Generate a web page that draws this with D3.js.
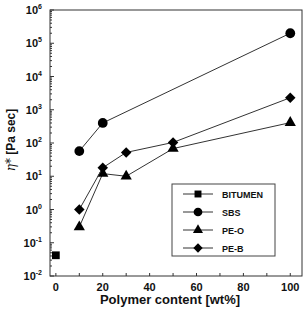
<!DOCTYPE html>
<html>
<head>
<meta charset="utf-8">
<script src="https://cdn.jsdelivr.net/npm/d3@7"></script>
<style>
body{margin:0;background:#fff;}
text{font-family:"Liberation Sans",Arial,sans-serif;font-weight:bold;fill:#111;}
</style>
</head>
<body>
<div id="chart-area"></div>
<script>
var margin = {top: 10, right: 4, bottom: 33, left: 50};
var width = 306 - margin.left - margin.right;
var height = 309 - margin.top - margin.bottom;

// data
var seriesNames = ["BITUMEN", "SBS", "PE-O", "PE-B"];
var bitumenX = [0];
var bitumenY = [0.042];
var sbsX = [10, 20, 100];
var sbsY = [57, 400, 200000];
var peoX = [10, 20, 30, 50, 100];
var peoY = [0.3, 12, 10, 68, 410];
var pebX = [10, 20, 30, 50, 100];
var pebY = [1.0, 18, 52, 104, 2300];
var xTicks = [0, 20, 40, 60, 80, 100];
var yExps = [-2, -1, 0, 1, 2, 3, 4, 5, 6];

var series = [
	{name: seriesNames[0], x: bitumenX, y: bitumenY, sym: d3.symbolSquare, size: 60, rot: 0},
	{name: seriesNames[1], x: sbsX, y: sbsY, sym: d3.symbolCircle, size: 75, rot: 0},
	{name: seriesNames[2], x: peoX, y: peoY, sym: d3.symbolTriangle, size: 55, rot: 0},
	{name: seriesNames[3], x: pebX, y: pebY, sym: d3.symbolSquare, size: 55, rot: 45}
];

var svg = d3.select("#chart-area").append("svg")
	.attr("width", 306)
	.attr("height", 309);

var group = svg.append("g")
	.attr("transform", "translate(" + margin.left + "," + margin.top + ")");

var x = d3.scaleLinear().domain([-2.5, 105]).range([0, width]);
var y = d3.scaleLog().domain([1e-2, 1e6]).range([height, 0]);

// frame
group.append("rect")
	.attr("width", width).attr("height", height)
	.attr("fill", "none").attr("stroke", "#333").attr("stroke-width", 1);

// y ticks (inside), major + minor
var minor = [];
yExps.slice(0, -1).forEach((e)=>{
	for (var k = 2; k <= 9; k++) minor.push(k * Math.pow(10, e));
});
group.selectAll(".ymin").data(minor).enter().append("line")
	.attr("x1", 0).attr("x2", 2)
	.attr("y1", (d)=>y(d)).attr("y2", (d)=>y(d))
	.attr("stroke", "#333");
group.selectAll(".ymaj").data(yExps).enter().append("line")
	.attr("x1", 0).attr("x2", 4)
	.attr("y1", (d)=>y(Math.pow(10, d))).attr("y2", (d)=>y(Math.pow(10, d)))
	.attr("stroke", "#333");
var yl = group.selectAll(".ylab").data(yExps).enter().append("text")
	.attr("x", -8)
	.attr("y", (d)=>y(Math.pow(10, d)) + 4)
	.attr("text-anchor", "end")
	.attr("font-size", "11px");
yl.append("tspan").text("10");
yl.append("tspan").attr("dy", -5).attr("font-size", "7px").text((d)=>d);

// x ticks (inside)
group.selectAll(".xt").data(d3.range(0, 101, 10)).enter().append("line")
	.attr("x1", (d)=>x(d)).attr("x2", (d)=>x(d))
	.attr("y1", height).attr("y2", height - 3)
	.attr("stroke", "#333");
group.selectAll(".xlab").data(xTicks).enter().append("text")
	.attr("x", (d)=>x(d))
	.attr("y", height + 15)
	.attr("text-anchor", "middle")
	.attr("font-size", "11px")
	.text((d)=>d);

// lines and markers
var line = d3.line().x((d)=>x(d[0])).y((d)=>y(d[1]));
series.forEach((s)=>{
	var pts = s.x.map((v, i)=>[v, s.y[i]]);
	group.append("path").datum(pts)
		.attr("d", line).attr("fill", "none")
		.attr("stroke", "#333").attr("stroke-width", 1);
	group.selectAll(null).data(pts).enter().append("path")
		.attr("d", d3.symbol().type(s.sym).size(s.size))
		.attr("transform", (d)=>"translate(" + x(d[0]) + "," + y(d[1]) + ") rotate(" + s.rot + ")")
		.attr("fill", "#000");
});

// legend
var lg = group.append("g").attr("transform", "translate(" + (172 - margin.left) + "," + (184 - margin.top) + ")");
lg.append("rect").attr("width", 103).attr("height", 72)
	.attr("fill", "#fff").attr("stroke", "#444");
series.forEach((s, i)=>{
	var yy = 10 + i * 18;
	lg.append("line").attr("x1", 11).attr("x2", 41).attr("y1", yy).attr("y2", yy)
		.attr("stroke", "#333");
	lg.append("path").attr("d", d3.symbol().type(s.sym).size(s.size * 0.8))
		.attr("transform", "translate(26," + yy + ") rotate(" + s.rot + ")").attr("fill", "#000");
	lg.append("text").attr("x", 50).attr("y", yy + 3.5)
		.attr("font-size", "9px").text(s.name);
});

// axis labels
svg.append("text")
	.attr("x", margin.left + width / 2 - 6)
	.attr("y", 304)
	.attr("text-anchor", "middle")
	.attr("font-size", "13px")
	.text("Polymer content [wt%]");
var ylab = svg.append("text")
	.attr("transform", "translate(15,140) rotate(-90)")
	.attr("text-anchor", "middle")
	.attr("font-size", "12px");
ylab.append("tspan").attr("font-style", "italic").attr("font-weight", "normal").attr("font-family", "DejaVu Serif").text("η*");
ylab.append("tspan").text(" [Pa sec]");
</script>
</body>
</html>
